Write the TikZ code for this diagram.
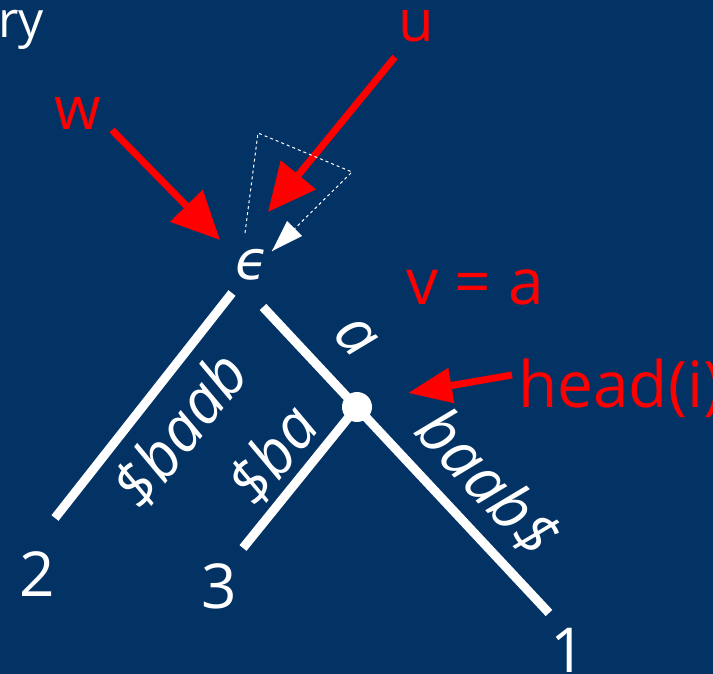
\documentclass[tikz,border=0pt]{standalone}
\usepackage{fontspec}
\setmainfont{Open Sans}
\newfontfamily\epsfont{DejaVu Sans}
\usetikzlibrary{arrows.meta}
\definecolor{navy}{RGB}{3,51,101}
\definecolor{hotred}{RGB}{255,0,0}
\tikzset{
  edge/.style={draw=white, line width=9pt},
  wlab/.style={text=white, inner sep=0pt, font=\fontsize{62}{62}\selectfont\itshape},
  leaflab/.style={text=white, inner sep=0pt, font=\fontsize{62}{62}\selectfont},
  rlab/.style={text=hotred, inner sep=0pt, anchor=base west},
  rarrow/.style={draw=hotred, line width=7pt, -{Triangle[length=48pt,width=44pt]}},
  dashln/.style={draw=white, line width=1pt, dash pattern=on 3pt off 3pt}
}
\begin{document}
\begin{tikzpicture}[x=1pt,y=-1pt]
\fill[navy] (0,0) rectangle (713,674);
\useasboundingbox (0,0) rectangle (713,674);

% top-left partial text
\node[text=white, inner sep=0pt, anchor=base west, font=\fontsize{50}{50}\selectfont] (ry) at (-2,38) {ry};

% root
\node[text=white, inner sep=0pt, font=\fontsize{54}{54}\selectfont\epsfont\itshape] (eps) at (252,265) {ϵ};

% coordinates of tree
\coordinate (r2) at (232,293);
\coordinate (l2) at (55,518);
\coordinate (r1) at (263,307);
\coordinate (l1) at (549,613);
\coordinate (l3) at (243,548);
\node[circle, fill=white, minimum size=30pt, inner sep=0pt] (hd) at (357,407) {};

\draw[edge] (r2) -- (l2);
\draw[edge] (r1) -- (l1);
\draw[edge] (hd.center) -- (l3);

% edge labels
\node[wlab, rotate=52] (e2) at (180,430) {\$baab};
\node[wlab, rotate=52] (e3) at (273,455) {\$ba};
\node[wlab, rotate=-47] (ea) at (356,337) {a};
\node[wlab, rotate=-47] (e1) at (488,482) {baab\$};

% leaf numbers
\node[leaflab] (n2) at (37,574) {2};
\node[leaflab] (n3) at (219,586) {3};
\node[leaflab] (n1) at (568,650) {1};

% red labels
\node[rlab, font=\fontsize{60}{60}\selectfont] (w) at (54,130) {w};
\node[rlab, font=\fontsize{58}{58}\selectfont] (u) at (398,42) {u};
\node[rlab, font=\fontsize{64}{64}\selectfont] (v) at (406,304) {v = a};
\node[rlab, font=\fontsize{64}{64}\selectfont] (hi) at (518,407) {head(i)};

% red arrows
\coordinate (wt) at (112,130);
\coordinate (wh) at (220,240);
\coordinate (ut) at (395,57);
\coordinate (uh) at (268,212);
\coordinate (ht) at (512,375);
\coordinate (hh) at (408,393);
\draw[rarrow] (wt) -- (wh);
\draw[rarrow] (ut) -- (uh);
\draw[rarrow, -{Triangle[length=44pt,width=34pt]}] (ht) -- (hh);

% dashed triangle
\coordinate (d1) at (245,233);
\coordinate (d2) at (258,133);
\coordinate (d3) at (352,172);
\coordinate (d4) at (272,251);
\draw[dashln] (d1) -- (d2) -- (d3) -- (d4);
\fill[white] (d4) -- (287,221) -- (302,236) -- cycle;
\end{tikzpicture}
\end{document}
